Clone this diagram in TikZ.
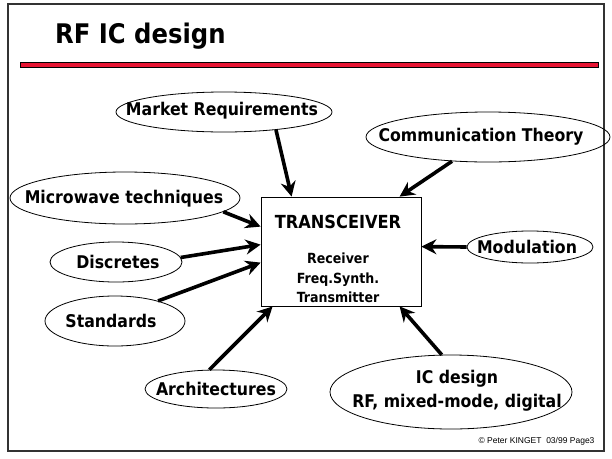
\documentclass[tikz,border=0pt]{standalone}
\usepackage{fontspec}
\setmainfont{DejaVu Sans Condensed}
\newfontfamily\smallfont{Liberation Sans}
\usetikzlibrary{arrows.meta,shapes.geometric}
\definecolor{barred}{RGB}{230,20,50}
\tikzset{
  bub/.style={draw,ellipse,line width=0.8pt,inner sep=0pt},
  bubtext/.style={font=\bfseries\fontsize{17.5}{24}\selectfont,align=center,inner sep=0pt},
  feed/.style={line width=3.6pt,-{Stealth[length=15pt,width=15pt,inset=5pt]}},
}
\begin{document}
\begin{tikzpicture}[x=1pt,y=-1pt]
\useasboundingbox (0,0) rectangle (612,458);
\draw[line width=1.2pt,black!80] (8,4) rectangle (604,451);
\node[anchor=base west,inner sep=0pt,font=\bfseries\fontsize{27}{30}\selectfont] (title) at (55,43) {RF IC design};
\draw[fill=barred,line width=0.8pt] (20,62) rectangle (598,67);
\node[draw,line width=0.8pt,minimum width=160pt,minimum height=109pt,inner sep=0pt] (box) at (341,251.5) {};
\node[anchor=base,font=\bfseries\fontsize{18}{20}\selectfont] (tr) at (338,228) {TRANSCEIVER};
\node[anchor=base,font=\bfseries\fontsize{14}{16}\selectfont] (rx) at (338,263) {Receiver};
\node[anchor=base,font=\bfseries\fontsize{14}{16}\selectfont] (fs) at (338,283) {Freq.Synth.};
\node[anchor=base,font=\bfseries\fontsize{14}{16}\selectfont] (tx) at (338,302) {Transmitter};
\node[bub,minimum width=216pt,minimum height=40pt] (mr) at (224,112) {};
\node[bubtext] (mrt) at (222,111) {Market Requirements};
\node[bub,minimum width=244pt,minimum height=50pt] (ct) at (488,137) {};
\node[bubtext] (ctt) at (481,137) {Communication Theory};
\node[bub,minimum width=230pt,minimum height=52pt] (mw) at (125,198) {};
\node[bubtext] (mwt) at (124,199) {Microwave techniques};
\node[bub,minimum width=132pt,minimum height=40pt] (di) at (116,262) {};
\node[bubtext] (dit) at (118,262) {Discretes};
\node[bub,minimum width=140pt,minimum height=50pt] (st) at (115,321) {};
\node[bubtext] (stt) at (111,321) {Standards};
\node[bub,minimum width=126pt,minimum height=32pt] (mo) at (530,247) {};
\node[bubtext] (mot) at (527,247) {Modulation};
\node[bub,minimum width=142pt,minimum height=38pt] (ar) at (216,389) {};
\node[bubtext] (art) at (216,389) {Architectures};
\node[bub,minimum width=242pt,minimum height=74pt] (ic) at (451,392) {};
\node[bubtext] (ict) at (457,391) {IC design\\RF, mixed-mode, digital};
\node[anchor=base east,font=\smallfont\fontsize{8.5}{9}\selectfont] (cp) at (598,443) {\textcopyright\ Peter KINGET\ \ 03/99 Page3};
\draw[feed] (mr.-19) -- ([xshift=31pt]box.north west);
\draw[feed] (ct.-146) -- ([xshift=139pt]box.north west);
\draw[feed] (mw.-8) -- ([yshift=-30pt]box.north west);
\draw[feed] (di.4) -- ([yshift=-48pt]box.north west);
\draw[feed] (st.25) -- ([yshift=-66pt]box.north west);
\draw[feed] (mo.west) -- ([yshift=-50pt]box.north east);
\draw[feed] (ar.109) -- ([xshift=12pt]box.south west);
\draw[feed] (ic.104) -- ([xshift=139pt]box.south west);
\end{tikzpicture}
\end{document}
